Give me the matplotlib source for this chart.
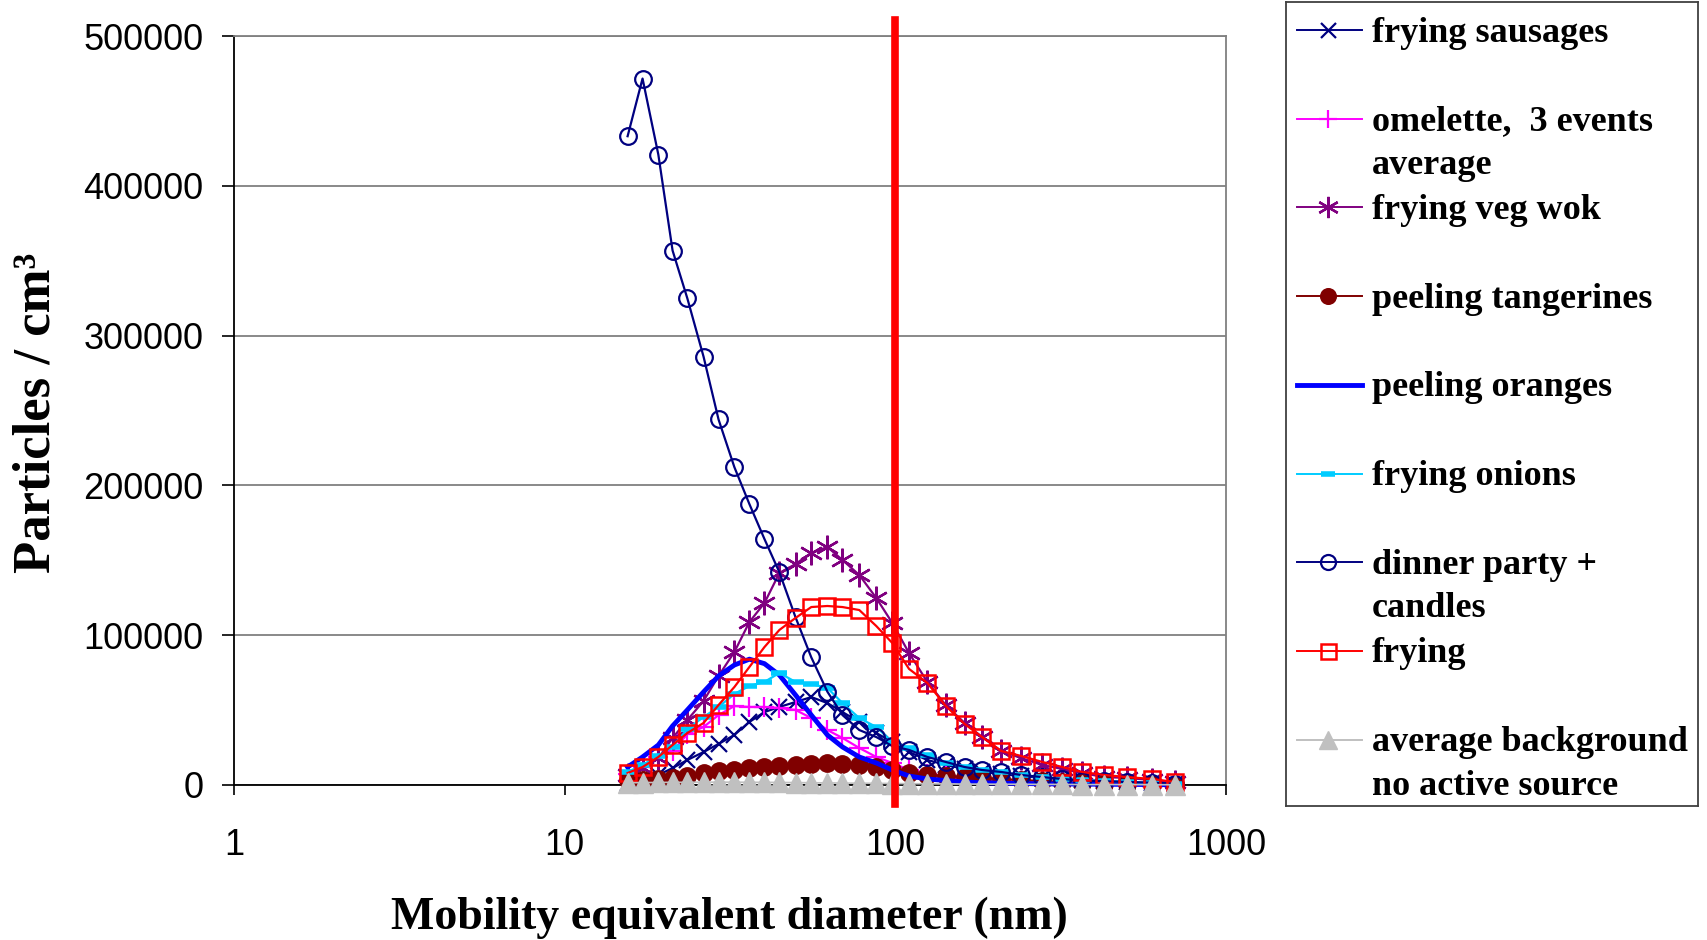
import matplotlib
matplotlib.use("Agg")
import matplotlib.pyplot as plt

# size bins (nm) and number concentrations (particles / cm3)
diam = [15.5, 17.2, 19.2, 21.2, 23.5, 26.3, 29.2, 32.6, 36.2, 40.2, 44.6, 49.9,
        55.7, 62.3, 69.2, 77.8, 87.6, 97.9, 110, 125, 142, 162, 183, 209,
        240, 278, 320, 367, 428, 502, 598, 701]

sausages = [1300, 4000, 6700, 11300, 16700, 22000, 27400, 33400, 42100, 48700, 52100, 55400,
            58700, 54700, 48700, 42100, 34700, 28700, 22000, 16700, 13400, 10700, 8700, 7300,
            6000, 4700, 4000, 3300, 2700, 2000, 1300, 700]
omelette = [7300, 12000, 18700, 22700, 34000, 38700, 46700, 52700, 52100, 52100, 51400, 50100,
            44700, 36700, 31400, 24700, 18700, 14700, 10000, 7300, 6000, 5000, 4000, 3300,
            2700, 2000, 1500, 1300, 1000, 700, 500, 300]
veg_wok = [6700, 11300, 18000, 31400, 43400, 56100, 72800, 88800, 108800, 121500, 141500, 147500,
           154900, 158900, 150200, 140200, 124800, 108200, 88100, 68800, 53400, 41400, 32000, 22700,
           18000, 13400, 10700, 8000, 5300, 4700, 3300, 2000]
tangerines = [3300, 3300, 4000, 4700, 6000, 8000, 9300, 10000, 11300, 12000, 12700, 13400,
              14000, 14700, 14000, 13400, 12000, 10000, 8000, 6700, 6000, 5300, 4700, 4000,
              3300, 2700, 2000, 1500, 1000, 700, 500, 300]
oranges = [12000, 18700, 26700, 39400, 50100, 62100, 72800, 80100, 84000, 81000, 73400, 60100,
           46700, 33400, 25400, 18700, 14700, 10000, 6000, 4000, 3000, 2000, 1500, 1200,
           1000, 800, 700, 600, 500, 400, 300, 200]
onions = [8700, 13400, 19400, 25400, 37400, 45400, 52100, 60800, 66100, 68800, 74800, 68800,
          67400, 64800, 54700, 44700, 38700, 28700, 24700, 20000, 14700, 12000, 10000, 8700,
          6700, 5300, 4300, 3300, 2700, 2000, 1300, 700]
dinner = [433100, 471600, 420800, 356800, 324800, 286000, 244000, 212200, 187500, 164200, 142000, 112000,
          85200, 62300, 46700, 36700, 32000, 26000, 23400, 18700, 15400, 12000, 10000, 8700,
          6700, 5300, 4000, 3000, 2500, 2000, 1500, 1000]
frying = [8000, 12000, 18700, 26700, 34700, 41400, 53400, 65400, 78800, 92100, 103500, 111500,
          118800, 119500, 118800, 116800, 106100, 94800, 77500, 68100, 52800, 40700, 32000, 22700,
          19400, 15400, 12000, 8700, 6700, 5300, 4000, 2000]
background = [1500, 1600, 1700, 1800, 1800, 1900, 1900, 1900, 1800, 1800, 1700, 1600,
              1500, 1400, 1300, 1200, 1100, 1000, 900, 800, 700, 600, 600, 500,
              500, 400, 400, 300, 300, 300, 200, 200]

labels = ["frying sausages", "omelette,  3 events\naverage", "frying veg wok",
          "peeling tangerines", "peeling oranges", "frying onions",
          "dinner party +\ncandles", "frying", "average background\nno active source"]
yticks = [0, 100000, 200000, 300000, 400000, 500000]
xticks = [1, 10, 100, 1000]
cutoff = 100

# line style per series: colour, marker, marker size, line width, marker face
styles = [
    dict(color="#000080", marker="x", ms=12, lw=1.6, mfc="none", mew=1.6),
    dict(color="#FF00FF", marker="+", ms=14, lw=1.6, mfc="none", mew=1.6),
    dict(color="#800080", marker=(6, 2, 0), ms=17, lw=1.6, mfc="none", mew=1.7),
    dict(color="#800000", marker="o", ms=12.5, lw=1.6, mfc="#800000", mew=1),
    dict(color="#0000FF", marker="None", ms=0, lw=3.5, mfc="none", mew=1),
    dict(color="#00CCFF", marker="_", ms=11, lw=1.6, mfc="none", mew=4),
    dict(color="#000080", marker="o", ms=12, lw=1.6, mfc="none", mew=1.6),
    dict(color="#FF0000", marker="s", ms=12, lw=1.6, mfc="none", mew=1.8),
    dict(color="#C0C0C0", marker="^", ms=15, lw=1.2, mfc="#C0C0C0", mew=1),
]
series = [sausages, omelette, veg_wok, tangerines, oranges, onions, dinner, frying, background]

W, H = 1707, 940
fig = plt.figure(figsize=(W / 100, H / 100), dpi=100)
ax = fig.add_axes([234 / W, 1 - 785 / H, (1226 - 234) / W, (785 - 36) / H])

for i, (vals, st) in enumerate(zip(series, styles)):
    ax.plot(diam, vals, color=st["color"], lw=st["lw"], marker=st["marker"],
            markersize=st["ms"], markerfacecolor=st["mfc"], markeredgecolor=st["color"],
            markeredgewidth=st["mew"], zorder=3 + i * 0.1, clip_on=False)

ax.axvline(cutoff, ymin=-0.026, ymax=1.021, color="#FF0000", lw=5.5, clip_on=False, zorder=10)

ax.set_xscale("log")
ax.set_xlim(1, 1000)
ax.set_ylim(0, 500000)
ax.set_xticks(xticks)
ax.set_xticklabels([str(v) for v in xticks])
ax.minorticks_off()
ax.set_yticks(yticks)
ax.set_yticklabels([str(v) for v in yticks])
ax.yaxis.grid(True, color="#808080", lw=1.3)
ax.set_axisbelow(True)

for lab in ax.get_xticklabels() + ax.get_yticklabels():
    lab.set_fontfamily("Liberation Sans")
    lab.set_fontsize(26)
ax.tick_params(axis="x", length=7, width=1.2, pad=24, direction="out")
ax.tick_params(axis="y", length=9, width=1.2, pad=13, direction="out")

for side in ["top", "right"]:
    ax.spines[side].set_color("#808080")
    ax.spines[side].set_linewidth(1.3)
for side in ["left", "bottom"]:
    ax.spines[side].set_color("black")
    ax.spines[side].set_linewidth(1.3)

fig.text(729 / W, 1 - 918 / H, "Mobility equivalent diameter (nm)", ha="center", va="center",
         fontfamily="Liberation Serif", fontweight="bold", fontsize=33)
fig.text(37 / W, 1 - 413 / H, "Particles / cm³", ha="center", va="center", rotation=90,
         fontfamily="Liberation Serif", fontweight="bold", fontsize=38)

# legend box drawn in its own pixel-based axes
lx0, lx1, ly0, ly1 = 1286, 1698, 2, 806
leg = fig.add_axes([lx0 / W, 1 - ly1 / H, (lx1 - lx0) / W, (ly1 - ly0) / H])
leg.set_xlim(lx0, lx1)
leg.set_ylim(ly1, ly0)
leg.set_xticks([])
leg.set_yticks([])
for sp in leg.spines.values():
    sp.set_color("#404040")
    sp.set_linewidth(1.3)

entry_y0, entry_step, line_step = 30, 88.7, 43.5
for i, (lab, st) in enumerate(zip(labels, styles)):
    y = entry_y0 + i * entry_step
    lw = st["lw"] if st["lw"] > 2 else 1.4
    leg.plot([1297, 1362], [y, y], color=st["color"], lw=lw)
    if st["marker"] != "None":
        leg.plot([1328], [y], marker=st["marker"], markersize=st["ms"] * 0.9,
                 markerfacecolor=st["mfc"], markeredgecolor=st["color"],
                 markeredgewidth=st["mew"], lw=0)
    for j, part in enumerate(lab.split("\n")):
        leg.text(1372, y + 3 + j * line_step, part, ha="left", va="center",
                 fontfamily="Liberation Serif", fontweight="bold", fontsize=26)

fig.savefig("out.png", dpi=100)
